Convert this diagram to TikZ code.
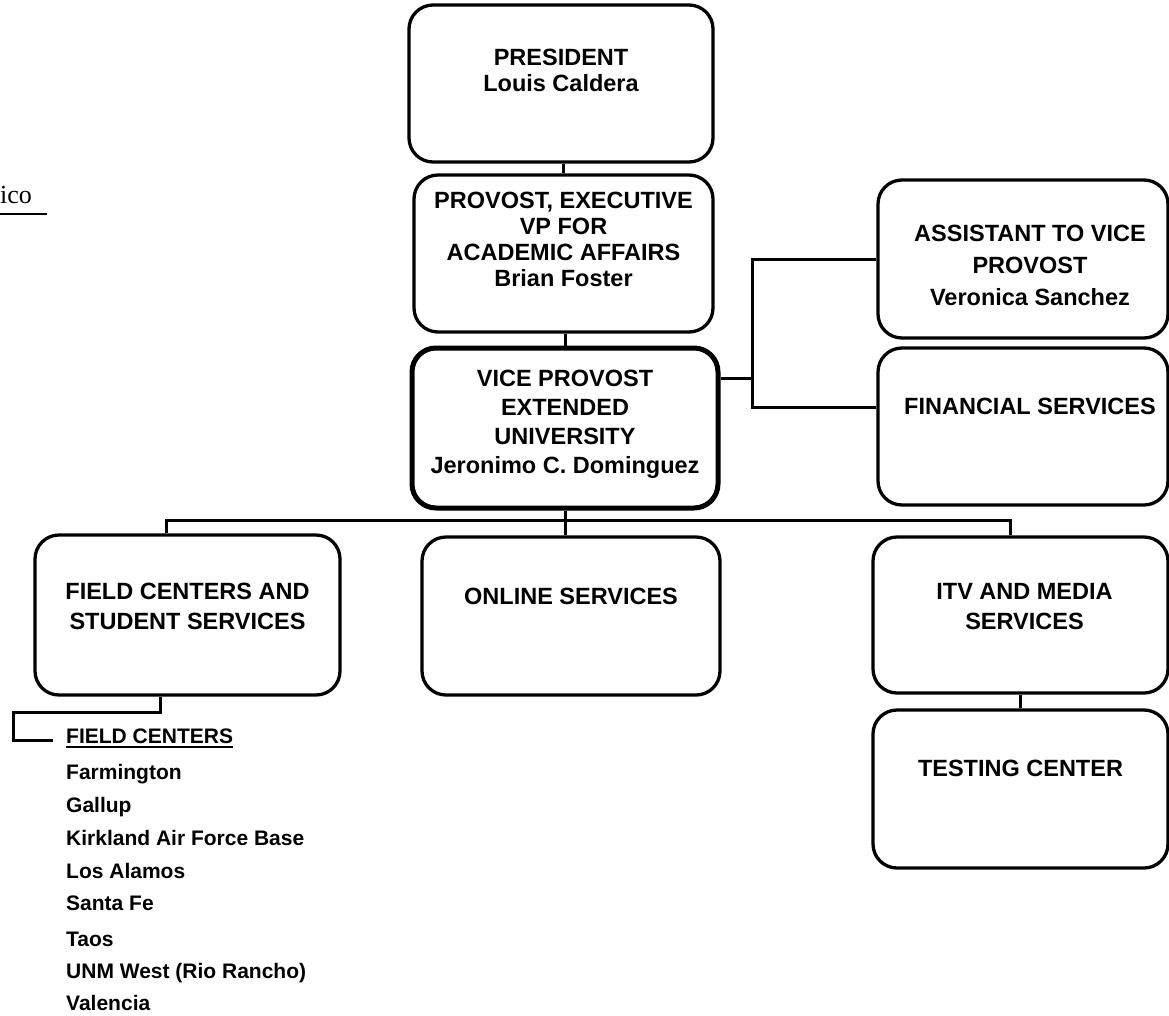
\documentclass[tikz,border=0pt]{standalone}
\usepackage{fontspec}
\setmainfont{Liberation Sans}
\newfontfamily\headfont{Liberation Serif}
\usetikzlibrary{positioning}

\begin{document}
\begin{tikzpicture}[x=1pt, y=-1pt,
        orgbox/.style={draw, rounded corners=24pt, line width=3.3pt, inner sep=0pt},
        boxtext/.style={font=\fontsize{23.5}{#1}\selectfont\bfseries, align=center, inner sep=0pt},
        boxtext/.default=30.5,
        link/.style={line width=3pt},
        site/.style={font=\fontsize{21}{25}\selectfont\bfseries, anchor=base west, inner sep=0pt}]
    \useasboundingbox (0,0) rectangle (1169,1015);

    % Cut-off page heading
    \node[font=\fontsize{26}{30}\selectfont\headfont, anchor=base west, inner sep=0pt] (heading) at (0,203) {ico};
    \draw[line width=1.3pt] (0,214) -- (47,214);

    % Boxes
    \node[orgbox, minimum width=304pt, minimum height=157pt] (pres) at (561,83.5) {};
    \node[orgbox, minimum width=299pt, minimum height=157pt] (prov) at (563.5,253.5) {};
    \node[orgbox, line width=5pt, minimum width=306pt, minimum height=160pt] (vp) at (565,428) {};
    \node[orgbox, minimum width=290pt, minimum height=158pt] (asst) at (1023,259) {};
    \node[orgbox, minimum width=290pt, minimum height=157pt] (fin) at (1023,426.5) {};
    \node[orgbox, minimum width=305pt, minimum height=160pt] (field) at (187.5,615) {};
    \node[orgbox, minimum width=298pt, minimum height=158pt] (online) at (571,616) {};
    \node[orgbox, minimum width=295pt, minimum height=156pt] (itv) at (1020.5,615) {};
    \node[orgbox, minimum width=295pt, minimum height=158pt] (test) at (1020.5,789) {};

    % Box texts
    \node[boxtext=26, below=45.5pt of pres.north] (presT) {PRESIDENT\\Louis Caldera};
    \node[boxtext=26, below=19pt of prov.north] (provT) {PROVOST, EXECUTIVE\\VP FOR\\ACADEMIC AFFAIRS\\Brian Foster};
    \node[boxtext=29, below=24pt of vp.north] (vpT) {VICE PROVOST\\EXTENDED\\UNIVERSITY\\Jeronimo C. Dominguez};
    \node[boxtext=32, below=46.5pt of asst.north, xshift=7pt] (asstT) {ASSISTANT TO VICE\\PROVOST\\Veronica Sanchez};
    \node[boxtext, below=51.5pt of fin.north, xshift=7pt] (finT) {FINANCIAL SERVICES};
    \node[boxtext, below=49.5pt of field.north] (fieldT) {FIELD CENTERS AND\\STUDENT SERVICES};
    \node[boxtext, below=52.5pt of online.north] (onlineT) {ONLINE SERVICES};
    \node[boxtext, below=47.5pt of itv.north, xshift=4pt] (itvT) {ITV AND MEDIA\\SERVICES};
    \node[boxtext, below=51.5pt of test.north] (testT) {TESTING CENTER};

    % Line of command
    \draw[link] (prov.north) -- (prov.north |- pres.south);
    \draw[link] (vp.north) -- (vp.north |- prov.south);

    % Staff branch
    \coordinate (vpR) at ([yshift=50pt]vp.east);
    \coordinate (staffTop) at (752,259);
    \coordinate (staffBot) at (752,407);
    \draw[link] (vpR) -- (vpR -| staffTop);
    \draw[link] (asst.west) -- (staffTop) -- (staffBot) -- (staffBot -| fin.west);

    % Units bus
    \coordinate (busL) at (166,520);
    \coordinate (busR) at (1010,520);
    \draw[link] (busL |- field.north) -- (busL) -- (busR) -- (busR |- itv.north);
    \draw[link] (vp.south) -- (vp.south |- online.north);
    \draw[link] (itv.south) -- (test.north);

    % Field centers list
    \coordinate (fcTop) at ([xshift=-27.5pt]field.south);
    \coordinate (fcBend) at (13,712);
    \coordinate (fcEnd) at (53,740);
    \draw[link] (fcTop) |- (fcBend) |- (fcEnd);
    \node[site] (fchead) at (66,743) {FIELD CENTERS};
    \draw[line width=1.8pt] ([yshift=-4pt]fchead.base west) -- ([yshift=-4pt]fchead.base east);
    \foreach \y/\place [count=\i] in {779.5/Farmington, 812.5/Gallup, 845.5/Kirkland Air Force Base,
            878.5/Los Alamos, 910.5/Santa Fe, 946.5/Taos, 978.5/UNM West (Rio Rancho), 1010.5/Valencia} {
        \node[site] (fc\i) at (66,\y) {\place};
    }
\end{tikzpicture}
\end{document}
